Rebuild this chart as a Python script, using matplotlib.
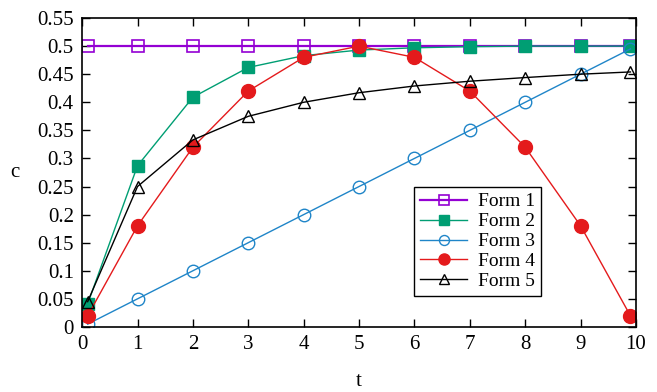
import matplotlib
matplotlib.use("Agg")
import matplotlib.pyplot as plt

plt.rcParams['font.family'] = ['Liberation Serif', 'DejaVu Serif']

t = [0.1, 1, 2, 3, 4, 5, 6, 7, 8, 9, 9.9]
form1 = [0.5, 0.5, 0.5, 0.5, 0.5, 0.5, 0.5, 0.5, 0.5, 0.5, 0.5]
form2 = [0.041, 0.287, 0.409, 0.462, 0.483, 0.493, 0.497, 0.499, 0.5, 0.5, 0.5]
form3 = [0.005, 0.05, 0.1, 0.15, 0.2, 0.25, 0.3, 0.35, 0.4, 0.45, 0.495]
form4 = [0.0198, 0.18, 0.32, 0.42, 0.48, 0.5, 0.48, 0.42, 0.32, 0.18, 0.0198]
form5 = [0.045, 0.25, 0.333, 0.375, 0.4, 0.417, 0.429, 0.4375, 0.444, 0.45, 0.454]
labels = ['Form 1', 'Form 2', 'Form 3', 'Form 4', 'Form 5']

fig = plt.figure(figsize=(6.57, 3.92), dpi=100)
ax = fig.add_axes([0.125, 0.166, 0.843, 0.788])

ax.plot(t, form1, color='#9400d3', lw=1.6, marker='s', ms=8.5, mfc='none', mew=1.2, label=labels[0])
ax.plot(t, form2, color='#009e73', lw=1.0, marker='s', ms=8.5, mfc='#009e73', mec='#009e73', label=labels[1])
ax.plot(t, form3, color='#1f85c8', lw=1.0, marker='o', ms=9, mfc='none', mew=1.0, label=labels[2])
ax.plot(t, form4, color='#e41a1c', lw=1.0, marker='o', ms=10, mfc='#e41a1c', mec='#e41a1c', label=labels[3])
ax.plot(t, form5, color='black', lw=1.0, marker='^', ms=9, mfc='none', mew=1.0, label=labels[4])

ax.set_xlim(0, 10)
ax.set_ylim(0, 0.55)
ax.set_xticks(range(0, 11))
yt = [i * 0.05 for i in range(12)]
ax.set_yticks(yt)
ax.set_yticklabels(['0', '0.05', '0.1', '0.15', '0.2', '0.25', '0.3', '0.35', '0.4', '0.45', '0.5', '0.55'])
ax.tick_params(direction='in', top=True, right=True, length=6, width=1, labelsize=15, pad=6)
for s in ax.spines.values():
    s.set_linewidth(1.2)

ax.set_xlabel('t', fontsize=15, va='center')
ax.set_ylabel('c', fontsize=15, rotation=0, va='center', ha='center')
ax.xaxis.set_label_coords(0.5, -0.176)
ax.yaxis.set_label_coords(-0.121, 0.50)

leg = ax.legend(loc='upper left', bbox_to_anchor=(0.600, 0.453), fontsize=14, frameon=True,
                fancybox=False, edgecolor='black', framealpha=1, borderpad=0.3,
                markerscale=0.8, handlelength=2.4, handletextpad=0.55, labelspacing=0.12,
                borderaxespad=0)
leg.get_frame().set_linewidth(1.0)

fig.savefig('out.png', dpi=100)
